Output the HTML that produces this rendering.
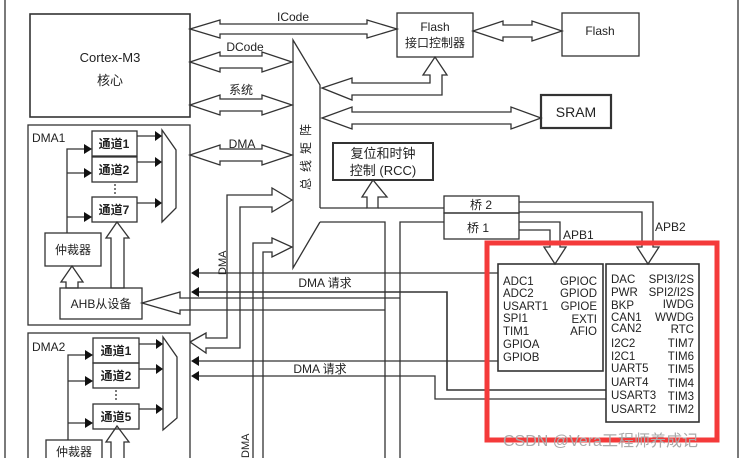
<!DOCTYPE html>
<html><head><meta charset="utf-8"><style>
html,body{margin:0;padding:0;background:#fff;}
svg{display:block;}
text{font-family:"Liberation Sans","Noto Sans CJK SC",sans-serif;fill:#222;}
</style></head><body>
<svg width="749" height="458" viewBox="0 0 749 458" xmlns="http://www.w3.org/2000/svg">
<g fill="none" stroke="#333" stroke-width="1.3">
<line x1="5" y1="0" x2="5" y2="458"/>
<line x1="738" y1="0" x2="738" y2="458"/>
<rect x="30" y="14" width="160" height="103" stroke-width="1.6"/>
<rect x="397" y="13" width="76" height="44"/>
<rect x="562" y="13" width="77" height="43"/>
<polygon fill="#fff" points="190,29 220,20 220,24 367,24 367,20 397,29 367,38 367,34 220,34 220,38"/>
<polygon fill="#fff" points="473,31 503,21 503,25 532,25 532,21 562,31 532,41 532,37 503,37 503,41"/>
<polygon fill="#fff" points="190,62 220,52 220,56 262,56 262,52 292,62 262,72 262,68 220,68 220,72"/>
<polygon fill="#fff" points="190,105 220,95 220,99 262,99 262,95 292,105 262,115 262,111 220,111 220,115"/>
<polygon fill="#fff" points="190,155 220,145 220,149 262,149 262,145 292,155 262,165 262,161 220,161 220,165"/>
<polyline points="320,208 320,85 293,40 293,268 320,222"/>
<polygon fill="#fff" points="322,88 352,78 352,83 430,83 430,75 423,75 435,57 447,75 442,75 442,95 352,95 352,100"/>
<polygon fill="#fff" points="322,118 352,107 352,112 511,112 511,107 541,118 511,129 511,124 352,124 352,129"/>
<rect x="541" y="95" width="70" height="33" stroke-width="2.2"/>
<rect x="333" y="143" width="100" height="37" stroke-width="2"/>
<polygon fill="#fff" points="367,208 367,197 362,197 373,180 387,197 378,197 378,208"/>
<line x1="320" y1="208" x2="367" y2="208"/>
<line x1="378" y1="208" x2="444" y2="208"/>
<polyline points="320,222 385,222 385,458"/>
<polyline points="444,222 400,222 400,458"/>
<rect x="444" y="196" width="75" height="17"/>
<rect x="444" y="213" width="75" height="26"/>
<polyline points="519,202 653,202 653,247 659,247 648,264 637,247 642,247 642,212 519,212"/>
<polyline points="519,222 560,222 560,247 566,247 555,264 544,247 550,247 550,230 519,230"/>
<rect x="498" y="264" width="105" height="107" stroke-width="1.6"/>
<rect x="606" y="264" width="93" height="158" stroke-width="1.6"/>
<rect x="28" y="125" width="162" height="200"/>
<rect x="92" y="131" width="45" height="25"/>
<rect x="92" y="157" width="45" height="25"/>
<rect x="92" y="197" width="45" height="25"/>
<line x1="115" y1="184" x2="115" y2="195" stroke-dasharray="2,2"/>
<polygon points="162,130 176,150 176,208 162,222"/>
<line x1="137" y1="136" x2="155" y2="136"/><line x1="137" y1="162" x2="155" y2="162"/><line x1="137" y1="203" x2="155" y2="203"/>
<polyline points="84,149 67,149 67,233"/><line x1="67" y1="173" x2="84" y2="173"/><line x1="67" y1="217" x2="84" y2="217"/>
<rect x="45" y="233" width="56" height="33"/>
<polygon fill="#fff" points="66,288 66,282 61,282 72,266 83,282 78,282 78,288"/>
<polygon fill="#fff" points="111,288 111,238 106,238 117,222 129,238 124,238 124,288"/>
<rect x="60" y="288" width="82" height="31"/>
<polyline points="400,298 180,298 180,292 142,303 180,314 180,310 385,310"/>
<line x1="198" y1="273" x2="498" y2="273"/>
<polyline points="198,292 447,292 447,390 606,390" stroke-width="1.6"/>
<rect x="28" y="333" width="162" height="135"/>
<rect x="93" y="338" width="46" height="25"/>
<rect x="93" y="363" width="46" height="25"/>
<rect x="93" y="404" width="46" height="25"/>
<line x1="116" y1="390" x2="116" y2="402" stroke-dasharray="2,2"/>
<polygon points="163,337 177,357 177,418 163,430"/>
<line x1="139" y1="344" x2="156" y2="344"/><line x1="139" y1="369" x2="156" y2="369"/><line x1="139" y1="409" x2="156" y2="409"/>
<polyline points="85,355 68,355 68,440"/><line x1="68" y1="381" x2="85" y2="381"/><line x1="68" y1="423" x2="85" y2="423"/>
<rect x="46" y="440" width="56" height="30"/>
<polyline points="111,458 111,442 106,442 117,426 129,442 124,442 124,458"/>
<line x1="198" y1="361" x2="498" y2="361"/>
<polyline points="198,376 435,376 435,399 606,399"/>
<polyline points="190,342 206,333 206,338 227,338 227,195 272,195 272,188 292,200 272,212 272,207 240,207 240,348 206,348 206,353 190,342"/>
<polyline points="253,458 253,243 272,243 272,238 292,247 272,257 272,252 263,252 263,458"/>
</g>
<g fill="#111">
<polygon points="155,131 162,136 155,141"/><polygon points="155,157 162,162 155,167"/><polygon points="155,198 162,203 155,208"/>
<polygon points="84,144 92,149 84,154"/><polygon points="84,168 92,173 84,178"/><polygon points="84,212 92,217 84,222"/>
<polygon points="156,339 163,344 156,349"/><polygon points="156,364 163,369 156,374"/><polygon points="156,404 163,409 156,414"/>
<polygon points="85,350 93,355 85,360"/><polygon points="85,376 93,381 85,386"/><polygon points="85,418 93,423 85,428"/>
<polygon points="191,273 199,268 199,278"/><polygon points="191,292 199,287 199,297"/>
<polygon points="191,361 199,356 199,366"/><polygon points="191,376 199,371 199,381"/>
</g>
<rect x="487" y="243" width="230" height="197" fill="none" stroke="#f43a3a" stroke-width="5"/>
<g font-size="12">
<text x="110" y="62" text-anchor="middle" font-size="13">Cortex-M3</text>
<text x="110" y="85" text-anchor="middle" font-size="13">核心</text>
<text x="293" y="21" text-anchor="middle">ICode</text>
<text x="245" y="51" text-anchor="middle">DCode</text>
<text x="241" y="94" text-anchor="middle">系统</text>
<text x="242" y="148" text-anchor="middle">DMA</text>
<text x="435" y="31" text-anchor="middle">Flash</text>
<text x="435" y="47" text-anchor="middle">接口控制器</text>
<text x="600" y="35" text-anchor="middle">Flash</text>
<text x="576" y="117" text-anchor="middle" font-size="14">SRAM</text>
<text x="383" y="158" text-anchor="middle" font-size="13">复位和时钟</text>
<text x="383" y="175" text-anchor="middle" font-size="13">控制 (RCC)</text>
<text x="481" y="209" text-anchor="middle">桥 2</text>
<text x="478" y="232" text-anchor="middle">桥 1</text>
<text x="563" y="239">APB1</text>
<text x="655" y="231">APB2</text>
<text x="32" y="142">DMA1</text>
<text x="32" y="351">DMA2</text>
<text x="114" y="148" text-anchor="middle" font-weight="bold">通道1</text>
<text x="114" y="174" text-anchor="middle" font-weight="bold">通道2</text>
<text x="114" y="214" text-anchor="middle" font-weight="bold">通道7</text>
<text x="116" y="355" text-anchor="middle" font-weight="bold">通道1</text>
<text x="116" y="380" text-anchor="middle" font-weight="bold">通道2</text>
<text x="116" y="421" text-anchor="middle" font-weight="bold">通道5</text>
<text x="73" y="254" text-anchor="middle">仲裁器</text>
<text x="74" y="456" text-anchor="middle">仲裁器</text>
<text x="101" y="308" text-anchor="middle">AHB从设备</text>
<text x="325" y="287" text-anchor="middle">DMA  请求</text>
<text x="320" y="373" text-anchor="middle">DMA  请求</text>
<text transform="translate(226,275) rotate(-90)" font-size="11">DMA</text>
<text transform="translate(249,458) rotate(-90)" font-size="11">DMA</text>
<text transform="translate(310,190) rotate(-90)" font-size="12" letter-spacing="6">总线矩阵</text>
<g font-size="11.5">
<text x="503" y="285">ADC1</text><text x="503" y="297">ADC2</text><text x="503" y="310">USART1</text><text x="503" y="322">SPI1</text><text x="503" y="335">TIM1</text><text x="503" y="348">GPIOA</text><text x="503" y="361">GPIOB</text>
<text x="597" y="285" text-anchor="end">GPIOC</text><text x="597" y="297" text-anchor="end">GPIOD</text><text x="597" y="310" text-anchor="end">GPIOE</text><text x="597" y="323" text-anchor="end">EXTI</text><text x="597" y="335" text-anchor="end">AFIO</text>
<text x="611" y="283">DAC</text><text x="611" y="296">PWR</text><text x="611" y="309">BKP</text><text x="611" y="321">CAN1</text><text x="611" y="332">CAN2</text><text x="611" y="347">I2C2</text><text x="611" y="360">I2C1</text><text x="611" y="372">UART5</text><text x="611" y="386">UART4</text><text x="611" y="399">USART3</text><text x="611" y="413">USART2</text>
<text x="694" y="283" text-anchor="end">SPI3/I2S</text><text x="694" y="296" text-anchor="end">SPI2/I2S</text><text x="694" y="308" text-anchor="end">IWDG</text><text x="694" y="321" text-anchor="end">WWDG</text><text x="694" y="333" text-anchor="end">RTC</text><text x="694" y="347" text-anchor="end">TIM7</text><text x="694" y="360" text-anchor="end">TIM6</text><text x="694" y="373" text-anchor="end">TIM5</text><text x="694" y="387" text-anchor="end">TIM4</text><text x="694" y="400" text-anchor="end">TIM3</text><text x="694" y="413" text-anchor="end">TIM2</text>
</g>
<text x="503" y="446" font-size="16" style="fill:#aaa">CSDN @Vera工程师养成记</text>
</g>
</svg>
</body></html>
